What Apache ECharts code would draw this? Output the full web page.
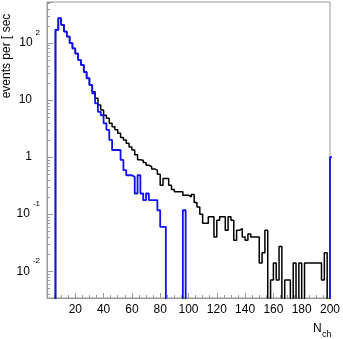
<!DOCTYPE html>
<html>
<head>
<meta charset="utf-8">
<script src="https://cdn.jsdelivr.net/npm/echarts@6/dist/echarts.min.js"></script>
<style>
  html, body { margin: 0; padding: 0; background: #fff; }
  #charts { width: 343px; height: 339px; }
</style>
</head>
<body>
<div id="charts"></div>
<script>
// bins: start at N = 0, width 2 (index i -> N = 2*i)
var binStart = 0;
var binWidth = 2;

// black histogram, N = 0 .. 198
var blackValues = [
  0, 0, 0, 169, 271, 207, 158, 129, 99, 80,
  65, 50, 41, 31, 24, 18.3, 14, 10.7, 8.2, 6.7,
  5.4, 4.8, 3.9, 3.4, 3.0, 2.6, 2.2, 2.0, 1.75, 1.5,
  1.33, 1.1, 0.9, 0.88, 0.80, 0.72, 0.68, 0.62, 0.59, 0.50,
  0.32, 0.42, 0.42, 0.32, 0.27, 0.246, 0.246, 0.246, 0.215, 0.215,
  0.20, 0.22, 0.16, 0.134, 0.10, 0.069, 0.069, 0.09, 0.09, 0.04,
  0.078, 0.09, 0.09, 0.052, 0.09, 0.078, 0.035, 0.052, 0.056, 0.04,
  0.035, 0.045, 0.04, 0.04, 0.04, 0.014, 0.021, 0.052, 0, 0.007,
  0.014, 0.007, 0.027, 0, 0.007, 0.007, 0, 0.014, 0, 0.014,
  0, 0.014, 0.014, 0.014, 0.014, 0.014, 0.014, 0.007, 0.021, 0
];

// blue histogram, N = 0 .. 200
var blueValues = [
  0, 0, 0, 169, 271, 207, 158, 129, 99, 80,
  65, 50, 41, 31, 24, 18.3, 13, 8.7, 6.2, 5.4,
  3.9, 3.0, 2.0, 1.33, 1.33, 1.33, 0.89, 0.59, 0.48, 0.48,
  0.45, 0.23, 0.48, 0.23, 0.176, 0.23, 0.176, 0.176, 0.176, 0.117,
  0.06, 0.06, 0, 0, 0, 0, 0, 0, 0.117, 0,
  0, 0, 0, 0, 0, 0, 0, 0, 0, 0,
  0, 0, 0, 0, 0, 0, 0, 0, 0, 0,
  0, 0, 0, 0, 0, 0, 0, 0, 0, 0,
  0, 0, 0, 0, 0, 0, 0, 0, 0, 0,
  0, 0, 0, 0, 0, 0, 0, 0, 0, 0,
  1.0
];

var xTicks = [0, 20, 40, 60, 80, 100, 120, 140, 160, 180, 200];
var yDecades = [-3, -2, -1, 0, 1, 2];
var yMin = 0.0034, yMax = 520;
var ZERO = 1e-4; // empty bins drop below the frame

var FONT = 'Liberation Sans, Arial, sans-serif';
var AXIS_GRAY = '#999';

function histData(values) {
  var d = [];
  for (var i = 0; i < values.length; i++) {
    d.push([binStart + i * binWidth, values[i] > 0 ? values[i] : ZERO]);
  }
  var last = values[values.length - 1];
  d.push([binStart + values.length * binWidth, last > 0 ? last : ZERO]);
  return d;
}

// minor ticks of log axis: 2..9 in each decade
var yMinor = [];
yDecades.forEach(function (k) {
  for (var m = 2; m <= 9; m++) {
    var v = m * Math.pow(10, k);
    if (v > yMin && v < yMax) yMinor.push([0, v]);
  }
});

function yLabel(v) {
  var lg = Math.log(v) / Math.LN10;
  var e = Math.round(lg);
  if (Math.abs(lg - e) > 0.01) return '';
  if (e === 0) return '{b|1}{p| }';
  if (e === 1) return '{b|10}{p| }';
  return '{b|10}{s|' + e + '}';
}

var myChart = echarts.init(document.getElementById('charts'));

var option = {
  animation: false,
  grid: {
    left: 47, right: 10, top: 2, bottom: 41,
    show: true, borderColor: AXIS_GRAY, borderWidth: 1
  },
  xAxis: {
    type: 'value',
    min: xTicks[0],
    max: xTicks[xTicks.length - 1],
    interval: 20,
    axisLine: { show: true, lineStyle: { color: AXIS_GRAY } },
    axisTick: { show: true, inside: true, length: 5, lineStyle: { color: AXIS_GRAY } },
    minorTick: { show: true, splitNumber: 4, length: 3, lineStyle: { color: AXIS_GRAY } },
    splitLine: { show: false },
    axisLabel: {
      margin: 6, color: '#000', fontSize: 12, fontFamily: FONT,
      formatter: function (v) { return v === 0 ? '' : String(v); }
    }
  },
  yAxis: {
    type: 'log',
    logBase: 10,
    min: yMin,
    max: yMax,
    axisLine: { show: true, lineStyle: { color: AXIS_GRAY } },
    axisTick: { show: true, inside: true, length: 6, lineStyle: { color: AXIS_GRAY } },
    splitLine: { show: false },
    axisLabel: {
      margin: 7, color: '#000', fontFamily: FONT,
      formatter: yLabel,
      rich: {
        b: { fontSize: 12, fontFamily: FONT, color: '#000', lineHeight: 12 },
        s: { fontSize: 8, fontFamily: FONT, color: '#000', lineHeight: 8,
             padding: [0, 0, 20, 3] },
        p: { fontSize: 8, width: 8 }
      }
    }
  },
  graphic: [
    {
      type: 'text', x: 7, y: 56, rotation: Math.PI / 2,
      style: { text: 'events per [ sec', fontSize: 12, fontFamily: FONT, fill: '#000',
               align: 'center', verticalAlign: 'middle' }
    },
    {
      type: 'text', x: 313, y: 323,
      style: { text: 'N', fontSize: 12, fontFamily: FONT, fill: '#000' }
    },
    {
      type: 'text', x: 322, y: 330,
      style: { text: 'ch', fontSize: 9, fontFamily: FONT, fill: '#000' }
    }
  ],
  series: [
    {
      name: 'black', type: 'line', step: 'end', showSymbol: false,
      data: histData(blackValues),
      lineStyle: { color: '#000', width: 1.5 },
      z: 2
    },
    {
      name: 'blue', type: 'line', step: 'end', showSymbol: false,
      data: histData(blueValues),
      lineStyle: { color: '#1010f0', width: 1.8 },
      z: 3
    },
    {
      name: 'yminor', type: 'custom', silent: true,
      data: yMinor,
      renderItem: function (params, api) {
        var p = api.coord([api.value(0), api.value(1)]);
        return {
          type: 'line',
          shape: { x1: p[0], y1: Math.round(p[1]) + 0.5, x2: p[0] + 3, y2: Math.round(p[1]) + 0.5 },
          style: { stroke: AXIS_GRAY, lineWidth: 1 }
        };
      },
      z: 1
    }
  ]
};

myChart.setOption(option);
</script>
</body>
</html>
